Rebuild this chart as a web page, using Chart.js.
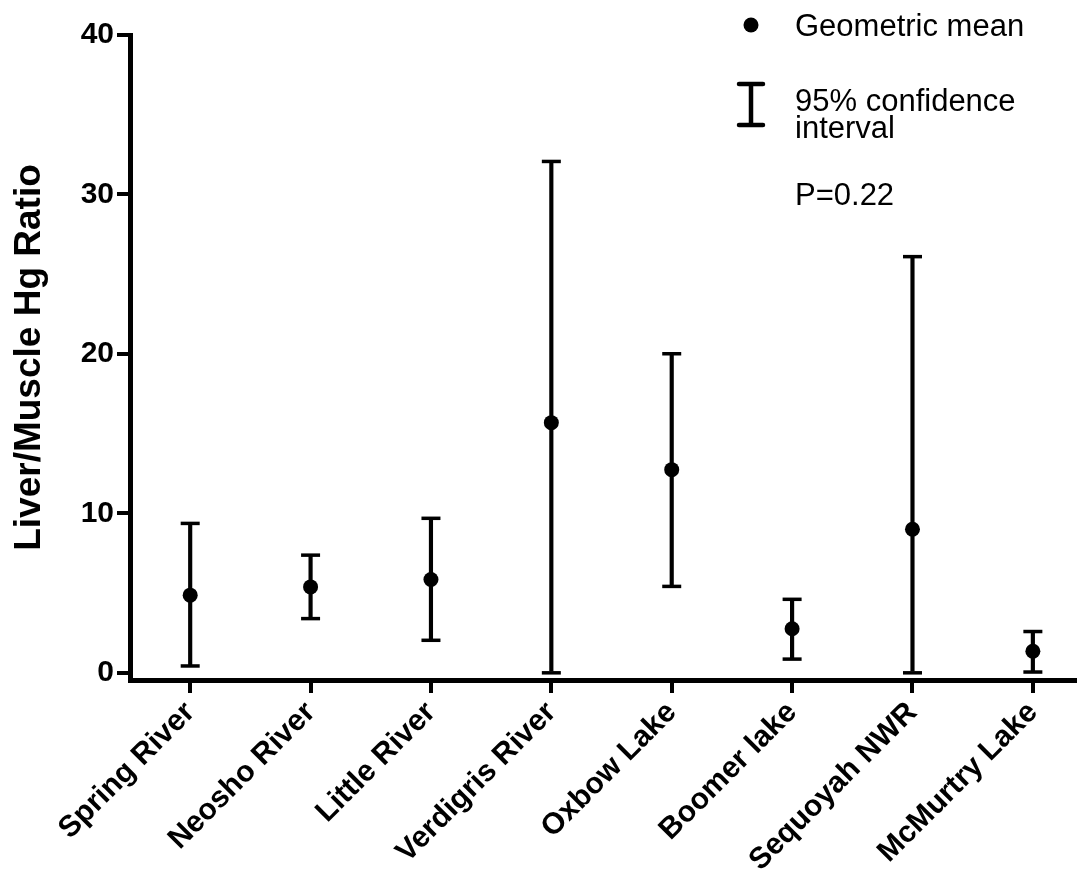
<!DOCTYPE html>
<html>
<head>
<meta charset="utf-8">
<script src="https://cdn.jsdelivr.net/npm/chart.js@4/dist/chart.umd.min.js"></script>
<style>
  html, body { margin: 0; padding: 0; background: #fff; }
  canvas { display: block; }
</style>
</head>
<body>
<canvas id="chart1" width="1089" height="884"></canvas>
<script>
// values
var categories = ['Spring River', 'Neosho River', 'Little River', 'Verdigris River', 'Oxbow Lake', 'Boomer lake', 'Sequoyah NWR', 'McMurtry Lake'];
var geoMean = [4.87, 5.39, 5.85, 15.69, 12.74, 2.76, 9.0, 1.35];
var ciLow = [0.43, 3.40, 2.04, 0, 5.42, 0.86, 0, 0.05];
var ciHigh = [9.37, 7.38, 9.69, 32.07, 20.01, 4.61, 26.1, 2.59];
var yTicks = [0, 10, 20, 30, 40];

var FONT = '"Liberation Sans", Arial, Helvetica, sans-serif';

// legend box in the top right corner
var legendPlugin = {
    id: 'legendBox',
    afterDraw: function(chart) {
        var ctx = chart.ctx;
        ctx.save();
        ctx.fillStyle = 'black';
        ctx.strokeStyle = 'black';
        ctx.beginPath();
        ctx.arc(751, 25, 7.5, 0, Math.PI * 2);
        ctx.fill();

        ctx.lineWidth = 4.5;
        ctx.lineCap = 'round';
        ctx.beginPath();
        ctx.moveTo(751, 84); ctx.lineTo(751, 125);
        ctx.moveTo(739, 84); ctx.lineTo(763, 84);
        ctx.moveTo(739, 125); ctx.lineTo(763, 125);
        ctx.stroke();

        ctx.font = '31px ' + FONT;
        ctx.textAlign = 'left';
        ctx.textBaseline = 'alphabetic';
        ctx.fillText('Geometric mean', 795, 36);
        ctx.fillText('95% confidence', 795, 111);
        ctx.fillText('interval', 795, 138);
        ctx.fillText('P=0.22', 795, 205);
        ctx.restore();
    }
};

var ctx1 = document.getElementById('chart1').getContext('2d');
var chart1 = new Chart(ctx1, {
    type: 'scatter',
    data: {
        datasets: [{
            label: 'Geometric mean',
            data: geoMean.map(function(v, i) { return {x: i, y: v}; }),
            pointStyle: 'circle',
            pointRadius: 7.5,
            backgroundColor: 'black',
            borderWidth: 0,
            order: 0,
            clip: false
        },
        {
            label: 'CI caps',
            data: ciLow.map(function(v, i) { return {x: i, y: v}; })
                .concat(ciHigh.map(function(v, i) { return {x: i, y: v}; })),
            pointStyle: 'line',
            pointRadius: 9.5,
            borderColor: 'black',
            borderWidth: 3.5,
            order: 1,
            clip: false
        },
        {
            type: 'bar',
            label: '95% confidence interval',
            data: ciLow.map(function(v, i) { return {x: i, y: [v, ciHigh[i]]}; }),
            backgroundColor: 'black',
            borderWidth: 0,
            barThickness: 3.5,
            order: 2,
            clip: false
        }]
    },
    options: {
        responsive: false,
        animation: false,
        layout: {
            padding: {left: 0, top: 35, right: 14, bottom: 0}
        },
        plugins: {
            legend: {display: false},
            tooltip: {enabled: false}
        },
        scales: {
            x: {
                type: 'linear',
                position: 'bottom',
                offset: false,
                min: -0.5,
                max: 7.35,
                afterBuildTicks: function(axis) {
                    axis.ticks = categories.map(function(c, i) { return {value: i}; });
                },
                afterFit: function(axis) { axis.height = 204; },
                ticks: {
                    autoSkip: false,
                    maxRotation: 45,
                    minRotation: 45,
                    padding: 2,
                    color: 'black',
                    font: {family: FONT, size: 30, weight: 'bold'},
                    callback: function(value) { return categories[value]; }
                },
                grid: {
                    offset: false,
                    drawOnChartArea: false,
                    tickLength: 13,
                    lineWidth: 4,
                    color: 'black'
                },
                border: {color: 'black', width: 5}
            },
            y: {
                min: -0.45,
                max: 40,
                afterBuildTicks: function(axis) {
                    axis.ticks = yTicks.map(function(v) { return {value: v}; });
                },
                afterFit: function(axis) { axis.width = 130; },
                ticks: {
                    padding: 3,
                    color: 'black',
                    font: {family: FONT, size: 30, weight: 'bold'}
                },
                grid: {
                    drawOnChartArea: false,
                    tickLength: 13,
                    lineWidth: 4,
                    color: 'black'
                },
                border: {color: 'black', width: 5},
                title: {
                    display: true,
                    text: 'Liver/Muscle Hg Ratio',
                    color: 'black',
                    padding: {top: 8, bottom: 0},
                    font: {family: FONT, size: 37, weight: 'bold'}
                }
            }
        }
    },
    plugins: [legendPlugin]
});
</script>
</body>
</html>
